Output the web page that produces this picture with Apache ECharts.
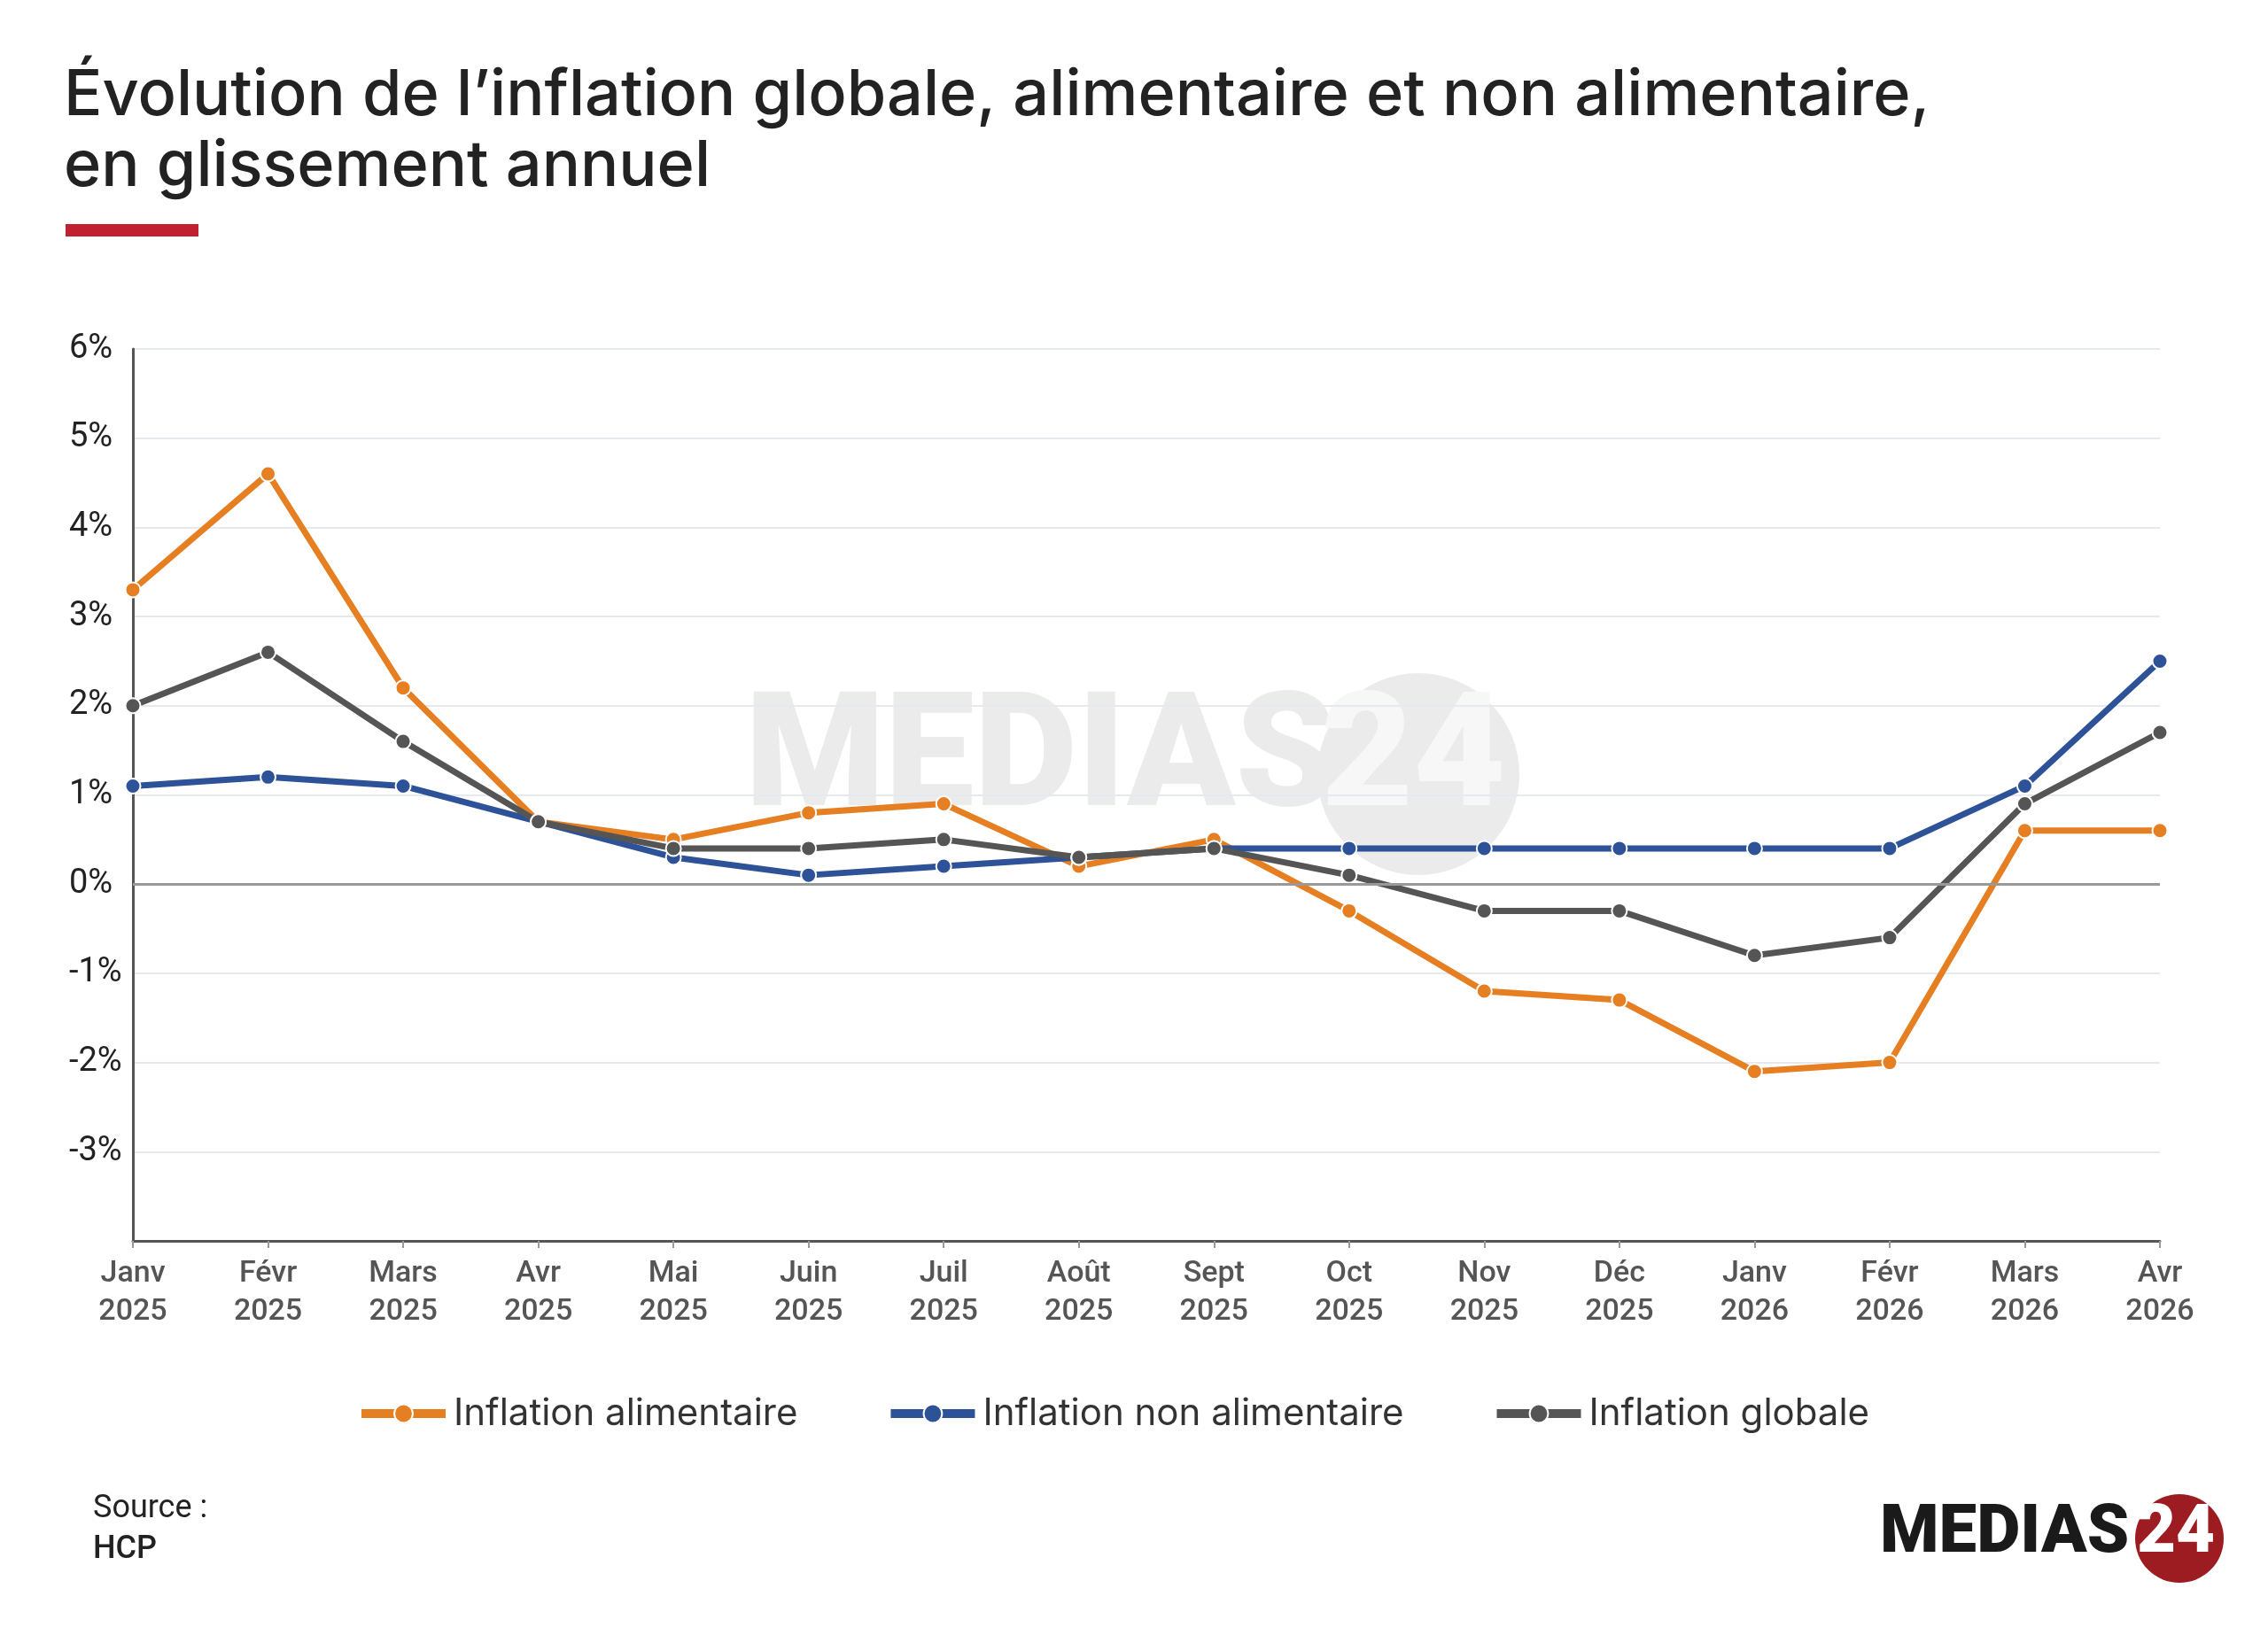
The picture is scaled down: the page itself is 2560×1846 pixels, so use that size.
<!DOCTYPE html>
<html>
<head>
<meta charset="utf-8">
<script src="https://cdn.jsdelivr.net/npm/echarts@6/dist/echarts.min.js"></script>
<style>
  html, body { margin: 0; padding: 0; background: #fff; }
  #chart { width: 2560px; height: 1846px; }
</style>
</head>
<body>
<div id="chart"></div>
<script>
// months, Janv 2025 -> Avr 2026
const months = ['Janv\n2025', 'Févr\n2025', 'Mars\n2025', 'Avr\n2025', 'Mai\n2025', 'Juin\n2025',
    'Juil\n2025', 'Août\n2025', 'Sept\n2025', 'Oct\n2025', 'Nov\n2025', 'Déc\n2025',
    'Janv\n2026', 'Févr\n2026', 'Mars\n2026', 'Avr\n2026'];

const alimentaire = [3.3, 4.6, 2.2, 0.7, 0.5, 0.8, 0.9, 0.2, 0.5, -0.3, -1.2, -1.3, -2.1, -2.0, 0.6, 0.6];
const nonAlimentaire = [1.1, 1.2, 1.1, 0.7, 0.3, 0.1, 0.2, 0.3, 0.4, 0.4, 0.4, 0.4, 0.4, 0.4, 1.1, 2.5];
const globale = [2.0, 2.6, 1.6, 0.7, 0.4, 0.4, 0.5, 0.3, 0.4, 0.1, -0.3, -0.3, -0.8, -0.6, 0.9, 1.7];

const seriesNames = ['Inflation alimentaire', 'Inflation non alimentaire', 'Inflation globale'];
const colors = ['#e67e22', '#2d5297', '#555555'];

const chart = echarts.init(document.getElementById('chart'));

function lineSeries(name, data, color) {
    return {
        name: name,
        type: 'line',
        data: data,
        symbol: 'circle',
        symbolSize: 17,
        lineStyle: { width: 7, color: color },
        itemStyle: { color: color, borderColor: '#fff', borderWidth: 2 },
        emphasis: { disabled: true },
        z: 3
    };
}

const series = [
    lineSeries(seriesNames[0], alimentaire, colors[0]),
    lineSeries(seriesNames[1], nonAlimentaire, colors[1]),
    lineSeries(seriesNames[2], globale, colors[2])
];
series[0].z = 2;
series[0].markLine = {
    silent: true,
    symbol: 'none',
    label: { show: false },
    lineStyle: { color: '#999', width: 3, type: 'solid' },
    data: [{ yAxis: 0 }]
};

const option = {
    backgroundColor: '#fff',
    animation: false,
    textStyle: { fontFamily: 'Roboto' },
    grid: {
        left: 150,
        right: 122,
        top: 394,
        bottom: 445
    },
    legend: {
        data: seriesNames,
        left: 398,
        top: 1570,
        itemWidth: 95,
        itemHeight: 26,
        itemGap: 100,
        textStyle: { fontFamily: 'Inter', fontSize: 42, color: '#333', padding: [0, 0, 0, 4] },
        lineStyle: { width: 10 }
    },
    xAxis: {
        type: 'category',
        data: months,
        boundaryGap: false,
        axisLine: { onZero: false, lineStyle: { color: '#555', width: 3 } },
        axisTick: { show: true, length: 8, lineStyle: { color: '#999', width: 2 } },
        axisLabel: {
            color: '#555',
            fontSize: 34,
            fontWeight: 500,
            lineHeight: 43,
            margin: 16,
            interval: 0
        },
        splitLine: { show: false }
    },
    yAxis: {
        type: 'value',
        min: -4,
        max: 6,
        interval: 1,
        axisLine: { show: true, lineStyle: { color: '#555', width: 3 } },
        axisTick: { show: false },
        axisLabel: {
            color: '#222',
            fontSize: 38,
            align: 'left',
            margin: 72,
            formatter: v => v === -4 ? '' : v + '%'
        },
        splitLine: { lineStyle: { color: '#e6e9ef', width: 2 } }
    },
    graphic: [
        // title
        {
            type: 'text', left: 72, top: 68,
            style: {
                text: 'Évolution de l’inflation globale, alimentaire et non alimentaire,\nen glissement annuel',
                font: '500 72px Inter', fill: '#222', lineHeight: 80
            }
        },
        { type: 'rect', left: 74, top: 253, shape: { width: 150, height: 14 }, style: { fill: '#c0202f' } },
        // watermark
        {
            type: 'group', left: 841, top: 760, z: 1, silent: true,
            children: [
                { type: 'circle', shape: { cx: 760, cy: 114, r: 114 }, style: { fill: '#ebebeb' } },
                { type: 'text', x: 0, y: 14, style: { text: 'MEDIAS', font: '900 180px Roboto', fill: '#ebebeb' } },
                { type: 'text', x: 650, y: 14, style: { text: '24', font: '900 180px Roboto', fill: '#f7f7f7' } }
            ]
        },
        // source
        {
            type: 'text', left: 105, top: 1686,
            style: { text: 'Source :', font: '36px Roboto', fill: '#222' }
        },
        {
            type: 'text', left: 105, top: 1732,
            style: { text: 'HCP', font: '500 36px Roboto', fill: '#222' }
        },
        // logo
        {
            type: 'group', left: 2122, top: 1687,
            children: [
                { type: 'circle', shape: { cx: 338, cy: 50, r: 50 }, style: { fill: '#9c1c22' } },
                { type: 'text', x: 0, y: 8, style: { text: 'MEDIAS', font: '900 76px Roboto', fill: '#1a1a1a' } },
                { type: 'text', x: 290, y: 8, style: { text: '24', font: '900 76px Roboto', fill: '#fff' } }
            ]
        }
    ],
    series: series
};

chart.setOption(option);
</script>
</body>
</html>
